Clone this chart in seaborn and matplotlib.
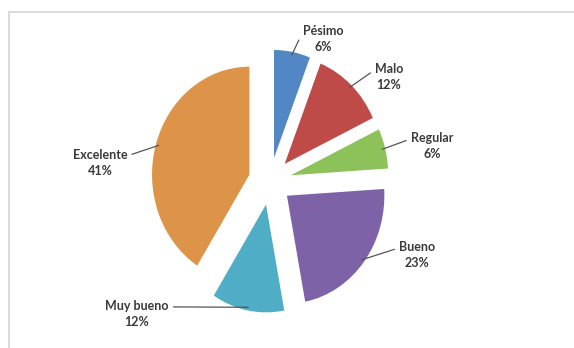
import matplotlib
matplotlib.use("Agg")
import matplotlib.pyplot as plt
import seaborn as sns
import numpy as np
from matplotlib.patches import Rectangle

# datos
categorias = ["Pésimo", "Malo", "Regular", "Bueno", "Muy bueno", "Excelente"]
porcentajes = [6, 12, 6, 23, 12, 41]
colores = ["#5386C4", "#BE4B48", "#8DC15A", "#7E62A8", "#4FADC6", "#DD9448"]

# posiciones de las etiquetas (pixeles desde arriba-izquierda)
pos_etiquetas = [(323, 39), (389, 77), (432, 146), (417, 255), (137, 314), (100, 163)]
relpos = [(0.0, 0.75), (0.0, 0.75), (0.0, 0.75), (0.0, 0.75), (1.0, 0.75), (1.0, 0.75)]

sns.set_theme(style="white")
plt.rcParams["font.family"] = ["Lato", "DejaVu Sans"]

W, H = 574, 348
fig = plt.figure(figsize=(W / 100, H / 100), dpi=100)
fig.patch.set_facecolor("white")

# marco del grafico
fig.patches.append(Rectangle((9 / W, -0.1), 1.2, (H - 12) / H + 0.1, transform=fig.transFigure,
                             fill=False, edgecolor="#D4D4D4", linewidth=1.2))

ax = fig.add_axes([150 / W, 35 / H, 238 / W, 263 / H])
wedges, _ = ax.pie(porcentajes, colors=colores, startangle=90, counterclock=False,
                   explode=[0.22] * len(porcentajes),
                   wedgeprops=dict(linewidth=0))

# ajustar limites a la extension del pastel
verts = np.vstack([w.get_path().vertices for w in wedges])
ax.set_xlim(verts[:, 0].min(), verts[:, 0].max())
ax.set_ylim(verts[:, 1].min(), verts[:, 1].max())
ax.set_aspect("auto")
ax.axis("off")

for w, cat, pct, (px, py), rp in zip(wedges, categorias, porcentajes, pos_etiquetas, relpos):
    ang = np.deg2rad((w.theta1 + w.theta2) / 2)
    cx, cy = w.center
    xy = (cx + 0.97 * w.r * np.cos(ang), cy + 0.97 * w.r * np.sin(ang))
    ax.annotate(f"{cat}\n{pct}%", xy=xy, xycoords="data",
                xytext=(px, H - py), textcoords="figure pixels",
                ha="center", va="center", fontsize=9, fontweight="bold",
                color="#3A3A3A", linespacing=1.45, annotation_clip=False,
                arrowprops=dict(arrowstyle="-", color="#555555", lw=0.9,
                                relpos=rp, shrinkA=1, shrinkB=0))

fig.savefig("out.png", dpi=100)
